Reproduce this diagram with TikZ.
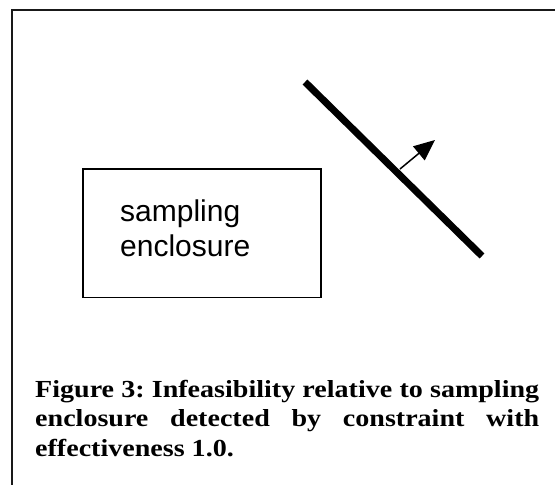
\documentclass[tikz,border=0pt]{standalone}
\usepackage{fontspec}
\setmainfont{Liberation Serif}
\newfontfamily\boxfont{Liberation Sans}
\newfontfamily\capfont[FakeStretch=1.145]{Liberation Serif}
\usetikzlibrary{arrows.meta}

\tikzset{
  frameline/.style={line width=1.8pt, draw=black!90},
  enclosure/.style={draw=black, line width=1.2pt, rectangle, inner sep=0pt,
    minimum width=238pt, minimum height=128.5pt},
  boxtext/.style={anchor=base west, inner sep=0pt, align=left,
    font=\boxfont\fontsize{30}{35}\selectfont},
  constraint/.style={line width=7pt, line cap=butt},
  normalarrow/.style={line width=1.5pt, -{Triangle[length=21pt,width=18pt]}},
  captiontext/.style={anchor=base west, inner sep=0pt, align=left,
    font=\capfont\bfseries\fontsize{24.5}{29.5}\selectfont\frenchspacing}
}

\begin{document}
\begin{tikzpicture}[x=1pt,y=-1pt]
\useasboundingbox (0,0) rectangle (555,485);
\fill[white] (0,0) rectangle (555,485);

% page frame: top and left edges
\draw[frameline] (555,10) -- (12,10) -- (12,485);

% the enclosure box and its label
\node[enclosure] (box) at (202,233.25) {};
\node[boxtext] (boxlabel) at (120,256.7) {sampling\\enclosure};

% the constraint and its normal direction
\coordinate (cstart) at (305,82);
\coordinate (cend) at (482,256);
\draw[constraint] (cstart) -- (cend);
\coordinate (ntail) at (400,169);
\coordinate (ntip) at (435,140);
\draw[normalarrow] (ntail) -- (ntip);

% caption, first two lines justified to the full width
\node[captiontext] (caption) at (35,456)
  {\makebox[504pt][s]{Figure 3: Infeasibility relative to sampling}\\
   \makebox[504pt][s]{enclosure detected by constraint with}\\
   effectiveness 1.0.};
\end{tikzpicture}
\end{document}
